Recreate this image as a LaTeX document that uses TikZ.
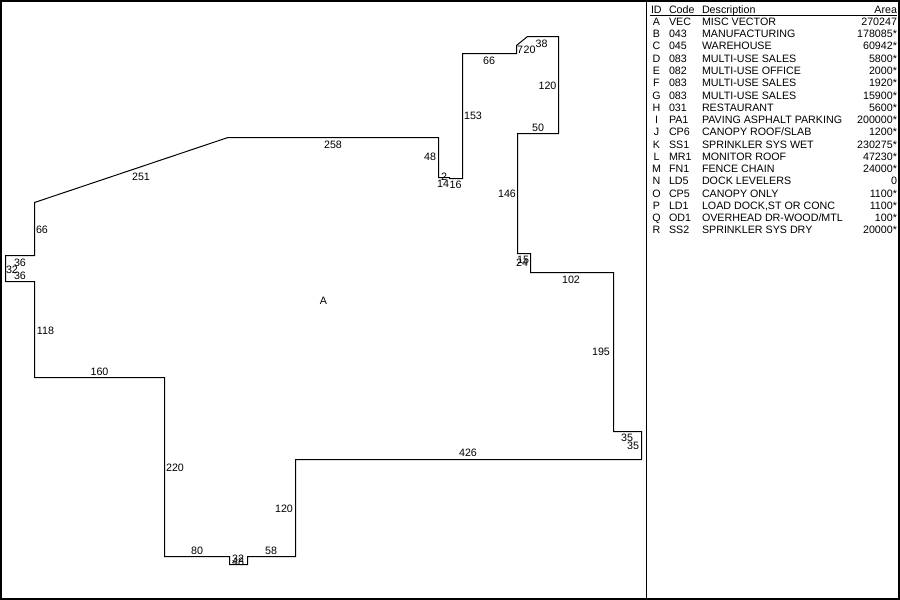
\documentclass[tikz,border=0pt]{standalone}
\usepackage{fontspec}
\setmainfont{Liberation Sans}
\tikzset{
  dim/.style={inner sep=0pt,outer sep=0pt,anchor=base,font=\fontsize{10.7}{12}\selectfont},
  cellL/.style={dim,anchor=base west},
  cellR/.style={dim,anchor=base east},
  cellC/.style={dim,anchor=base},
  rule/.style={line width=1pt,draw=black},
  outline/.style={line width=1pt,draw=black,line join=miter}
}
\begin{document}
\begin{tikzpicture}[x=1pt,y=-1pt]
\useasboundingbox (0,0) rectangle (900,600);
\fill[white] (0,0) rectangle (900,600);
\draw[line width=2pt] (1,1) rectangle (899,599);
\draw[rule] (646.5,0) -- (646.5,600);
\draw[rule] (650,15) -- (897,15);
% outline
\draw[outline] (228,137.5) -- (438.5,137.5) -- (438.5,177.5) -- (449.5,177.5) -- (449.5,178.5)
 -- (462.5,178.5) -- (462.5,53.5) -- (516.5,53.5) -- (516.5,45.5) -- (527.5,36.5) -- (558.5,36.5)
 -- (558.5,133.5) -- (517.5,133.5) -- (517.5,253.5) -- (530.5,253.5) -- (530.5,272.5) -- (613.5,272.5)
 -- (613.5,431.5) -- (641.5,431.5) -- (641.5,459.5) -- (295.5,459.5) -- (295.5,556.5) -- (247.5,556.5)
 -- (247.5,564.5) -- (229.5,564.5) -- (229.5,556.5) -- (164.5,556.5) -- (164.5,377.5) -- (34.5,377.5)
 -- (34.5,281.5) -- (5.5,281.5) -- (5.5,255.5) -- (34.5,255.5) -- (34.5,202.5) -- cycle;
% dimension labels
\foreach \n/\t/\px/\py in {a/258/333/148,b/48/430/160,c/2/444/180,d/14/443/187,e/16/455.5/188,f/153/473/119,
 g/66/489/64,h/7/520/53,i/20/529.5/53,j/38/541.5/47,k/120/547.5/89,l/50/538/131,m/146/507/197,n/15/523/263,
 o/24/522/266,p/102/571/283,q/195/601/355,r/35/627/441,s/35/633/449,t/426/468/456,u/120/284/512,
 v/58/271/554,w/80/197/554,x/220/175/471,y/160/99.5/375,z/118/45.5/334,aa/36/20/266,ab/32/12/273,
 ac/36/20/279,ad/66/42/233,ae/251/141/180,af/A/323.5/304,ag/32/238/562,ah/48/238/565}
  \node[dim] (lab\n) at (\px,\py) {\t};
% table header
\node[cellL] (hid) at (651,13) {ID};
\node[cellL] (hcode) at (669,13) {Code};
\node[cellL] (hdesc) at (702,13) {Description};
\node[cellR] (harea) at (897,13) {Area};
% table rows
\foreach \i/\c/\d/\v/\y in {
 A/VEC/MISC VECTOR/270247/25,
 B/043/MANUFACTURING/178085*/37,
 C/045/WAREHOUSE/60942*/49,
 D/083/MULTI-USE SALES/5800*/62,
 E/082/MULTI-USE OFFICE/2000*/74,
 F/083/MULTI-USE SALES/1920*/86,
 G/083/MULTI-USE SALES/15900*/99,
 H/031/RESTAURANT/5600*/111,
 I/PA1/PAVING ASPHALT PARKING/200000*/123,
 J/CP6/{CANOPY ROOF/SLAB}/1200*/135,
 K/SS1/SPRINKLER SYS WET/230275*/148,
 L/MR1/MONITOR ROOF/47230*/160,
 M/FN1/FENCE CHAIN/24000*/172,
 N/LD5/DOCK LEVELERS/0/184,
 O/CP5/CANOPY ONLY/1100*/197,
 P/LD1/{LOAD DOCK,ST OR CONC}/1100*/209,
 Q/OD1/{OVERHEAD DR-WOOD/MTL}/100*/221,
 R/SS2/SPRINKLER SYS DRY/20000*/233}{
  \node[cellC] (id\i) at (656.5,\y) {\i};
  \node[cellL] (code\i) at (669,\y) {\c};
  \node[cellL] (desc\i) at (702,\y) {\d};
  \node[cellR] (area\i) at (897,\y) {\v};
}
\end{tikzpicture}
\end{document}
